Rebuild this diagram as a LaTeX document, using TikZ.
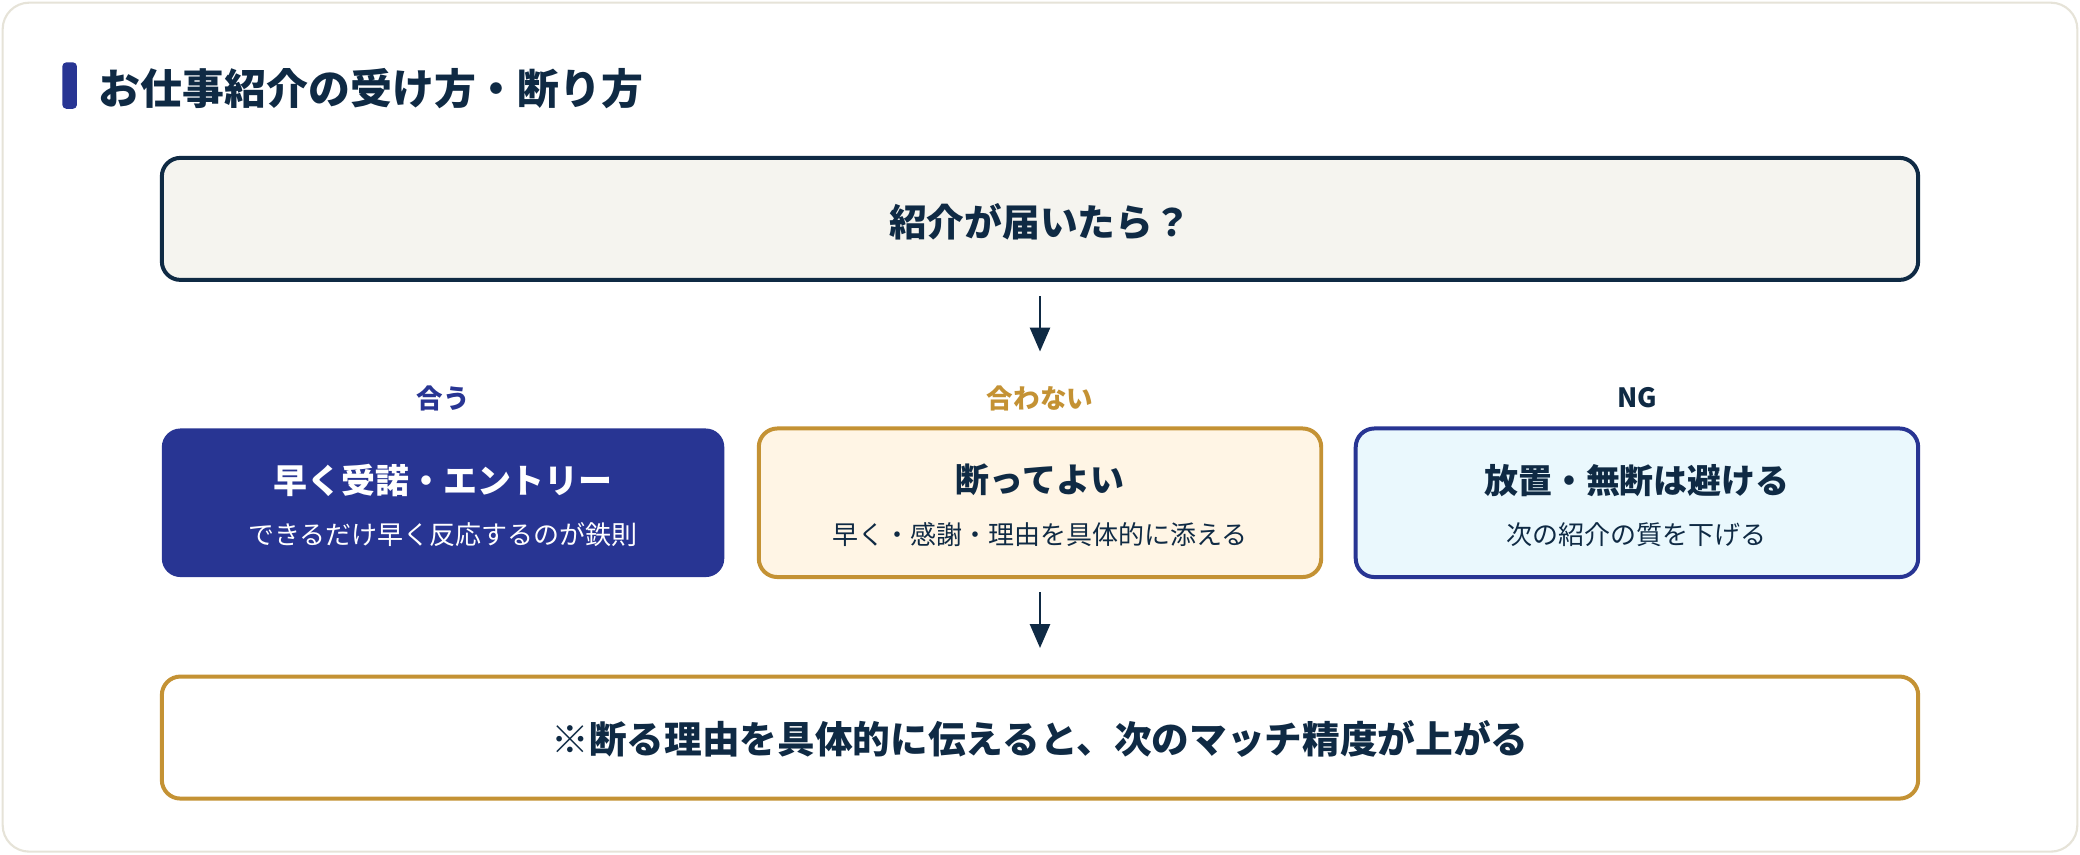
\documentclass[tikz,border=0pt]{standalone}
\usepackage{fontspec}
\setmainfont{Noto Sans CJK JP}
\usetikzlibrary{arrows.meta}
\definecolor{navy}{HTML}{0F2A44}
\definecolor{brandblue}{HTML}{283593}
\definecolor{gold}{HTML}{C49234}
\definecolor{cream}{HTML}{FFF5E5}
\definecolor{iceblue}{HTML}{EAF8FD}
\definecolor{paper}{HTML}{F5F4EF}
\definecolor{cardline}{HTML}{E6E3D8}
\tikzset{
  box/.style={rounded corners=7pt, line width=1.5pt, minimum width=662pt, minimum height=46pt, inner sep=0pt},
  optbox/.style={rounded corners=7pt, line width=1.5pt, minimum width=212pt, minimum height=56pt, inner sep=0pt},
  bigtext/.style={font=\bfseries\fontsize{14.2}{16}\selectfont, text=navy, inner sep=0pt},
  opttitle/.style={font=\bfseries\fontsize{12.8}{14}\selectfont, inner sep=0pt},
  optsub/.style={font=\fontsize{9.8}{11}\selectfont, inner sep=0pt},
  lbl/.style={font=\bfseries\fontsize{10}{12}\selectfont, inner sep=0pt},
  flow/.style={draw=navy, line width=1pt, -{Triangle[width=7.5pt,length=9pt]}}
}
\begin{document}
\begin{tikzpicture}[x=0.5pt,y=-0.5pt]
\useasboundingbox (0,0) rectangle (1568,644);
\draw[cardline, line width=0.8pt, fill=white, rounded corners=10pt] (2,2) rectangle (1566,642);
% title
\fill[brandblue, rounded corners=1.5pt] (47,47) rectangle (58,82);
\node[anchor=west, font=\bfseries\fontsize{15.8}{18}\selectfont, text=navy, inner sep=0pt] (title) at (74,67) {お仕事紹介の受け方・断り方};
% top box
\node[box, draw=navy, fill=paper] (top) at (784,165) {};
\node[bigtext] (toptext) at (784,167) {紹介が届いたら？};
% labels
\node[lbl, text=brandblue] (lblA) at (334,300) {合う};
\node[lbl, text=gold] (lblB) at (784,300) {合わない};
\node[lbl, text=navy] (lblC) at (1234,300) {NG};
% option boxes
\node[optbox, fill=brandblue] (boxA) at (334,379) {};
\node[optbox, draw=gold, fill=cream] (boxB) at (784,379) {};
\node[optbox, draw=brandblue, fill=iceblue] (boxC) at (1234,379) {};
\node[opttitle, text=white] (tA) at (334,362) {早く受諾・エントリー};
\node[optsub, text=white] (sA) at (334,403) {できるだけ早く反応するのが鉄則};
\node[opttitle, text=navy] (tB) at (784,362) {断ってよい};
\node[optsub, text=navy] (sB) at (784,403) {早く・感謝・理由を具体的に添える};
\node[opttitle, text=navy] (tC) at (1234,362) {放置・無断は避ける};
\node[optsub, text=navy] (sC) at (1234,403) {次の紹介の質を下げる};
% bottom box
\node[box, draw=gold, fill=white] (bottom) at (784,556) {};
\node[bigtext] (bottext) at (784,557) {※断る理由を具体的に伝えると、次のマッチ精度が上がる};
% arrows
\coordinate (a1end) at (784,265);
\draw[flow, shorten <=5.5pt] (top.south) -- (a1end);
\draw[flow, shorten <=5pt, shorten >=10pt] (boxB.south) -- (bottom.north);
\end{tikzpicture}
\end{document}
